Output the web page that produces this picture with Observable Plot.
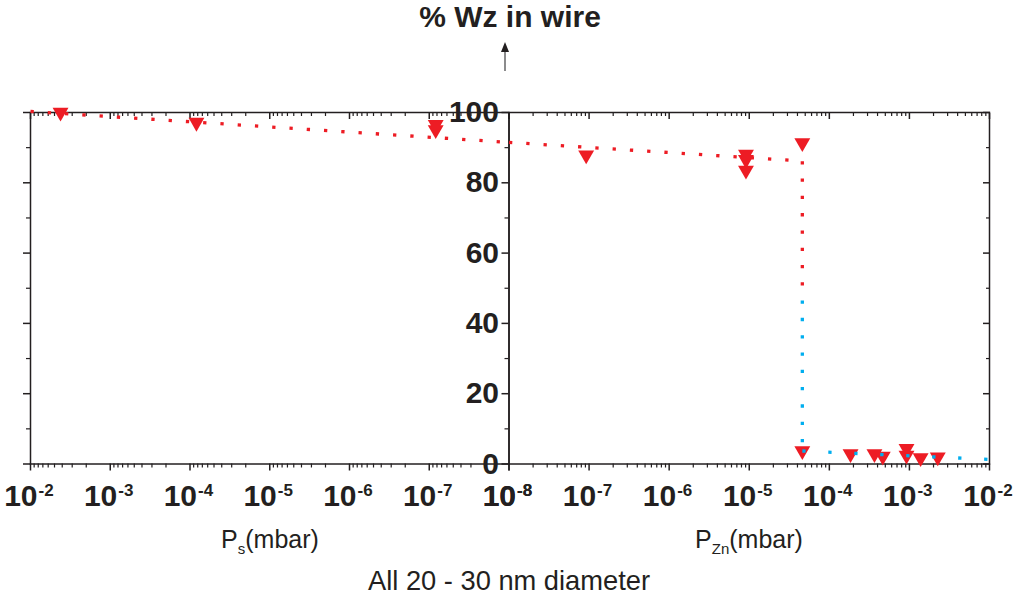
<!DOCTYPE html>
<html><head><meta charset="utf-8">
<script src="https://cdn.jsdelivr.net/npm/d3@7"></script>
<script src="https://cdn.jsdelivr.net/npm/@observablehq/plot@0.6"></script>
<style>
body{margin:0;background:#fff;}
#wrap{position:relative;width:1018px;height:597px;overflow:hidden;font-family:"Liberation Sans",Arial,sans-serif;color:#231f20;}
#wrap svg{position:absolute;top:0;}
</style></head><body><div id="wrap"></div>
<script>
// ---- data ----
const psPressure = [4.2e-3, 8.3e-5, 8.3e-8, 8.3e-8];          // P_s (mbar)
const psWz       = [99.5, 96.6, 96.0, 94.5];                  // % Wz
const pznPressure = [9.2e-8, 9.1e-6, 9.1e-6, 9.1e-6, 4.6e-5, 4.6e-5, 1.84e-4, 3.66e-4, 4.65e-4, 9.2e-4, 9.2e-4, 1.38e-3, 2.26e-3];
const pznWz       = [87.3, 87.5, 86.0, 83.0, 90.8, 3.2, 2.3, 2.3, 1.6, 3.8, 1.9, 1.2, 1.4];
const guidePsP  = [1e-2, 1e-8];            const guidePsWz  = [100.3, 91.5];
const guideRedP = [1e-8, 4.6e-5, 4.6e-5];  const guideRedWz = [91.5, 86.2, 50.5];
const guideBlueVP = [4.6e-5, 4.6e-5];      const guideBlueVWz = [46.5, 3.7];
const guideBlueHP = [4.6e-5, 1e-2];        const guideBlueHWz = [3.7, 1.3];
const tickExponents = [-2, -3, -4, -5, -6, -7, -8];
const yMajor = [0, 20, 40, 60, 80, 100];
const yMinor = [10, 30, 50, 70, 90];

// ---- layout / style ----
const H = 597, frameTop = 112, frameBottom = 463.5;
const ink = "#231f20", red = "#ed1c24", blue = "#00aeef";
const decades = tickExponents.map(e => 10 ** e);
const minorTicks = decades.slice(1).flatMap(d => [2,3,4,5,6,7,8,9].map(k => k * d));
const wrap = document.getElementById("wrap");

function frameAxes() {
  return [
    Plot.axisX(decades, {anchor: "bottom", tickSize: 7, fill: "none", strokeWidth: 1.5}),
    Plot.axisX(minorTicks, {anchor: "bottom", tickSize: 4, fill: "none", strokeWidth: 1.2}),
    Plot.axisX(decades, {anchor: "top", tickSize: -6, fill: "none", strokeWidth: 1.5}),
    Plot.axisX(minorTicks, {anchor: "top", tickSize: -3, fill: "none", strokeWidth: 1.2}),
    Plot.text(decades, {x: d => d, frameAnchor: "bottom", text: () => "10", textAnchor: "end", dx: 7, dy: 41.5, lineAnchor: "bottom", fontSize: 30, fontWeight: "bold", fill: ink}),
    Plot.text(tickExponents, {x: e => 10 ** e, frameAnchor: "bottom", text: e => String(e), textAnchor: "start", dx: 8, dy: 31.5, lineAnchor: "bottom", fontSize: 17, fontWeight: "bold", fill: ink}),
    Plot.frame({stroke: ink, strokeWidth: 1.5})
  ];
}
function guide(P, V, color, dash) {
  return Plot.line(d3.range(P.length), {x: i => P[i], y: i => V[i], stroke: color, strokeWidth: 3.3, strokeDasharray: dash, strokeLinecap: "butt"});
}
function tri(P, V) {
  return Plot.dot(d3.range(P.length), {x: i => P[i], y: i => V[i], symbol: "triangle", rotate: 180, r: 5.9, fill: red, stroke: "none", dy: -2});
}
function place(svg, left) {
  svg.style.left = left + "px";
  wrap.appendChild(svg);
}
const baseStyle = {background: "transparent", overflow: "visible", fontFamily: "Liberation Sans, Arial, sans-serif", color: ink};

// left panel: P_s, decreasing to the right
place(Plot.plot({
  width: 540, height: H, marginTop: frameTop, marginBottom: H - frameBottom, marginLeft: 30, marginRight: 31.5,
  style: baseStyle,
  x: {type: "log", domain: [1e-2, 1e-8]}, y: {domain: [0, 100]},
  marks: [
    Plot.axisY(yMajor, {anchor: "left", tickSize: 7, fill: "none", strokeWidth: 1.5}),
    Plot.axisY(yMinor, {anchor: "left", tickSize: 4, fill: "none", strokeWidth: 1.2}),
    ...frameAxes(),
    tri(psPressure, psWz),
    guide(guidePsP, guidePsWz, red, "3.3,14")
  ]
}), 0);

// right panel: P_Zn, increasing to the right
place(Plot.plot({
  width: 598, height: H, marginTop: frameTop, marginBottom: H - frameBottom, marginLeft: 88.5, marginRight: 29,
  style: baseStyle,
  x: {type: "log", domain: [1e-8, 1e-2]}, y: {domain: [0, 100]},
  marks: [
    Plot.axisY(yMajor, {anchor: "left", tickSize: 7, tickPadding: 3, fontSize: 30, fontWeight: "bold", label: null, strokeWidth: 1.5}),
    Plot.axisY(yMinor, {anchor: "left", tickSize: 4, fill: "none", strokeWidth: 1.2}),
    Plot.axisY(yMajor, {anchor: "right", tickSize: -7, fill: "none", strokeWidth: 1.5}),
    Plot.axisY(yMinor, {anchor: "right", tickSize: -4, fill: "none", strokeWidth: 1.2}),
    ...frameAxes(),
    tri(pznPressure, pznWz),
    guide(guideRedP, guideRedWz, red, "3.3,14"),
    guide(guideBlueVP, guideBlueVWz, blue, "3.3,14"),
    guide(guideBlueHP, guideBlueHWz, blue, "3.3,22.7")
  ]
}), 420);

// titles and axis captions
const ns = "http://www.w3.org/2000/svg";
const ov = document.createElementNS(ns, "svg");
ov.setAttribute("width", 1018); ov.setAttribute("height", H);
ov.style.left = "0px"; ov.style.pointerEvents = "none";
ov.setAttribute("font-family", "Liberation Sans, Arial, sans-serif");
ov.innerHTML = `
  <text x="510" y="27" text-anchor="middle" font-size="30" font-weight="bold" fill="${ink}">% Wz in wire</text>
  <line x1="505" y1="71" x2="505" y2="50" stroke="#4d4d4f" stroke-width="1.3"/>
  <path d="M505,42L501,52L509,52Z" fill="${ink}"/>
  <text x="270" y="548" text-anchor="middle" font-size="25" fill="${ink}">P<tspan font-size="15" dy="6">s</tspan><tspan dy="-6">(mbar)</tspan></text>
  <text x="749" y="548" text-anchor="middle" font-size="25" fill="${ink}">P<tspan font-size="15" dy="6">Zn</tspan><tspan dy="-6">(mbar)</tspan></text>
  <text x="368" y="590" font-size="28" fill="${ink}" textLength="282" lengthAdjust="spacingAndGlyphs">All 20 - 30 nm diameter</text>`;
wrap.appendChild(ov);
</script></body></html>
